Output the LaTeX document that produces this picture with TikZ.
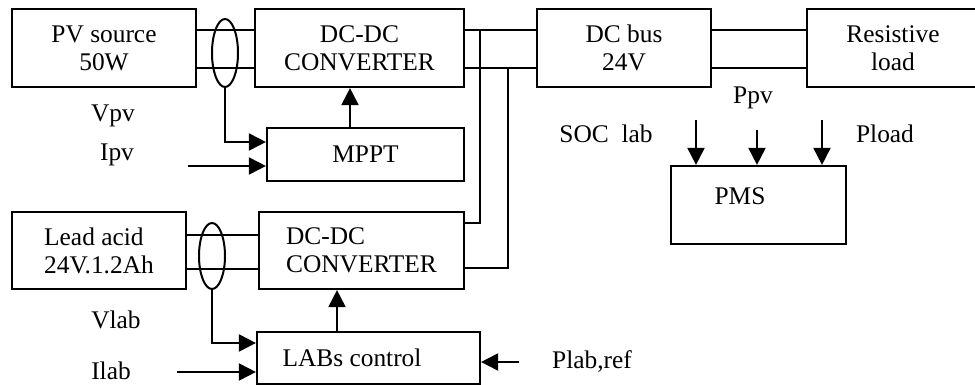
\documentclass[tikz,border=0pt]{standalone}
\usepackage{fontspec}
\setmainfont{Liberation Serif}
\usetikzlibrary{arrows.meta,shapes.geometric}
\tikzset{
  box/.style={draw,line width=1.1pt,align=center,inner sep=2pt,font=\fontsize{12.7}{14}\selectfont},
  wire/.style={draw,line width=1pt},
  sig/.style={-{Triangle[length=8.5pt,width=8.5pt]},draw,line width=1pt},
  sense/.style={ellipse,draw,line width=1pt,minimum width=13pt,minimum height=34pt,inner sep=0pt},
  lbl/.style={font=\fontsize{12.7}{14}\selectfont,inner sep=0pt},
}

\begin{document}
\begin{tikzpicture}[x=0.5pt,y=-0.5pt]
\useasboundingbox (0,0) rectangle (975,385);
\node[box,minimum width=92pt,minimum height=39pt] (pv) at (104,48) {PV source\\50W};
\node[box,minimum width=104.5pt,minimum height=39pt] (conv1) at (359.5,48) {DC-DC\\CONVERTER};
\node[box,minimum width=98.5pt,minimum height=26.5pt] (mppt) at (365.5,154.5) {MPPT};
\node[box,minimum width=87pt,minimum height=39pt] (dcbus) at (624,48) {DC bus\\24V};
\node[box,minimum width=86pt,minimum height=39pt] (load) at (893,48) {Resistive\\load};
\node[box,minimum width=87.5pt,minimum height=39pt] (pms) at (758.5,205) {};
\node[lbl] (pmstext) at (740,196) {PMS};
\node[box,align=left,minimum width=87pt,minimum height=38.5pt] (lab) at (99,250.5) {Lead acid\\24V.1.2Ah};
\node[box,align=left,minimum width=102.5pt,minimum height=38.5pt] (conv2) at (361.5,250.5) {DC-DC\\CONVERTER};
\node[box,minimum width=111.5pt,minimum height=26pt] (labs) at (368.5,358) {};
\node[lbl] (labstext) at (352,358) {LABs control};
\node[sense] (pvsense) at (225,53) {};
\node[sense,minimum height=33pt] (labsense) at (212,256) {};
\foreach \a/\b/\y in {pv/conv1/30,pv/conv1/68,conv1/dcbus/30,conv1/dcbus/68,dcbus/load/30,dcbus/load/68,lab/conv2/235,lab/conv2/269}
  \draw[wire] (\a.east |- 0,\y) -- (\b.west |- 0,\y);
\coordinate (tapa) at (480,30);
\coordinate (tapb) at (508,68);
\draw[wire] (tapa) |- (conv2.east |- 0,223);
\draw[wire] (tapb) |- (conv2.east |- 0,268);
\draw[sig] (pvsense.south) |- (mppt.west |- 0,142);
\draw[sig] (labsense.south) |- (labs.west |- 0,343);
\coordinate (ipvin) at (188,166);
\coordinate (ilabin) at (177,372);
\coordinate (plabin) at (519,362);
\draw[sig] (ipvin) -- (ipvin -| mppt.west);
\draw[sig] (ilabin) -- (ilabin -| labs.west);
\draw[sig] (plabin) -- (plabin -| labs.east);
\draw[sig] (mppt.north -| 350,0) -- (conv1.south -| 350,0);
\draw[sig] (labs.north -| 337,0) -- (conv2.south -| 337,0);
\coordinate (socin) at (696,120);
\coordinate (ppvin) at (757,130);
\coordinate (ploadin) at (822,120);
\foreach \c in {socin,ppvin,ploadin}\draw[sig] (\c) -- (\c |- pms.north);
\node[lbl] (vpv) at (113,116) {Vpv};
\node[lbl] (ipv) at (117,155) {Ipv};
\node[lbl] (vlab) at (116,320) {Vlab};
\node[lbl] (ilab) at (111,371) {Ilab};
\node[lbl] (soclab) at (606,134) {SOC\ \ lab};
\node[lbl] (ppv) at (753,98) {Ppv};
\node[lbl] (pload) at (885,134) {Pload};
\node[lbl] (plabref) at (592,362) {Plab,ref};
\end{tikzpicture}
\end{document}
